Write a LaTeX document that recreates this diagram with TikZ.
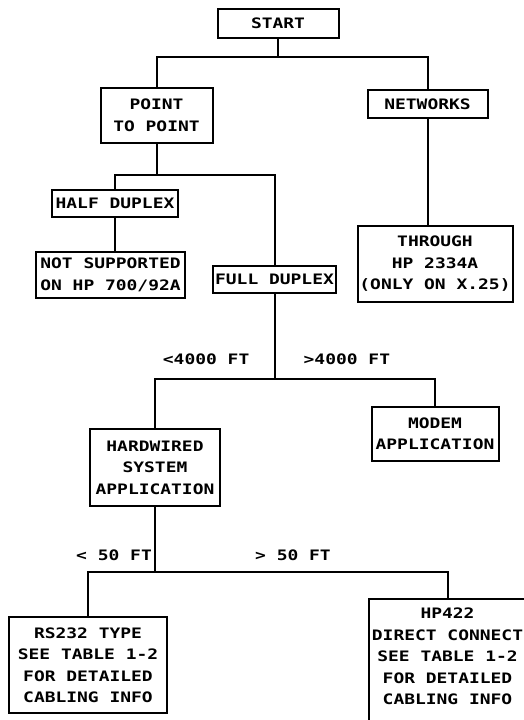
\documentclass[tikz,border=0pt]{standalone}
\usepackage{fontspec}
\newfontfamily\plotfont{DejaVu Sans Mono}[FakeStretch=1.245]
\usetikzlibrary{positioning}

\begin{document}
\begin{tikzpicture}[
  box/.style={rectangle, draw, line width=2pt, inner sep=0pt, outer sep=0pt, align=center, font=\plotfont\bfseries\fontsize{14.4}{21.5}\selectfont},
  lbl/.style={inner sep=0pt, font=\plotfont\bfseries\fontsize{14.4}{21.5}\selectfont},
  link/.style={line width=2pt}
]
\useasboundingbox (0,0) rectangle (524pt,-720pt);
\clip (0,0) rectangle (524pt,-720pt);

\node[box, minimum width=121pt, minimum height=29pt] (start) at (278pt,-23.5pt) {START};
\node[box, minimum width=112pt, minimum height=55pt, below left=50pt and 5pt of start] (ptp) {POINT\\TO POINT};
\node[box, minimum width=120pt, minimum height=28pt, below right=52pt and 29pt of start] (net) {NETWORKS};
\node[box, minimum width=126pt, minimum height=27pt, below=47pt of ptp, xshift=-41.5pt] (half) {HALF DUPLEX};
\node[box, minimum width=149pt, minimum height=46pt, below=35pt of half, xshift=-4.5pt] (nsup) {NOT SUPPORTED\\ON HP 700/92A};
\node[box, minimum width=123pt, minimum height=27pt, below right=49pt and 35pt of half] (full) {FULL DUPLEX};
\node[box, minimum width=155pt, minimum height=76pt, below=108pt of net, xshift=7.5pt] (thru) {THROUGH\\HP 2334A\\(ONLY ON X.25)};
\node[box, minimum width=127pt, minimum height=54pt, below=105pt of thru] (modem) {MODEM\\APPLICATION};
\node[box, minimum width=130pt, minimum height=77pt, below=136pt of full, xshift=-119.5pt] (hard) {HARDWIRED\\SYSTEM\\APPLICATION};
\node[box, minimum width=158pt, minimum height=96pt, below=111pt of hard, xshift=-67pt] (rs) {RS232 TYPE\\SEE TABLE 1-2\\FOR DETAILED\\CABLING INFO};
\node[box, minimum width=158pt, inner ysep=9pt, text depth=30pt, below=138pt of modem, xshift=12.5pt] (hp) {HP422\\DIRECT CONNECT\\SEE TABLE 1-2\\FOR DETAILED\\CABLING INFO};

% branch points
\coordinate[below=19pt of start] (j1);
\coordinate[below=32pt of ptp] (j2);
\coordinate[below=86pt of full] (j3);
\coordinate[below=66pt of hard] (j4);

\node[lbl, above left=14pt and 25pt of j3] (lt4000) {<4000 FT};
\node[lbl, above right=14pt and 29pt of j3] (gt4000) {>4000 FT};
\node[lbl, above left=11pt and 3pt of j4] (lt50) {< 50 FT};
\node[lbl, above right=11pt and 100pt of j4] (gt50) {> 50 FT};

\draw[link] (start) -- (j1) -| (ptp);
\draw[link] (j1) -| (net);
\draw[link] (ptp) -- (j2) -| (half);
\draw[link] (j2) -| (full);
\draw[link] (half) -- (half |- nsup.north);
\draw[link] (net) -- (net |- thru.north);
\draw[link] (full) -- (j3) -| (hard);
\draw[link] (j3) -| (modem);
\draw[link] (hard) -- (j4) -| (rs);
\draw[link] (j4) -| (hp.north);
\end{tikzpicture}
\end{document}
